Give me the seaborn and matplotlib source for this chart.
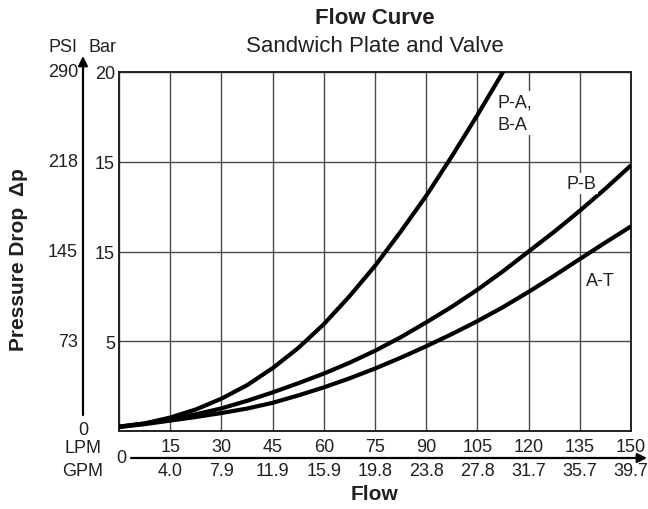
import matplotlib
matplotlib.use("Agg")
import matplotlib.pyplot as plt
import matplotlib.transforms as mtransforms
import numpy as np
import pandas as pd
import seaborn as sns

# ---- data -------------------------------------------------------------
flow_pa = [0, 7.5, 15, 22.5, 30, 37.5, 45, 52.5, 60, 67.5, 75, 82.5, 90, 97.5, 105, 112.5]
dp_pa = [0.24, 0.42, 0.75, 1.20, 1.80, 2.55, 3.50, 4.62, 5.95, 7.50, 9.20, 11.1, 13.1, 15.3, 17.6, 20.0]

flow_full = [0, 7.5, 15, 22.5, 30, 37.5, 45, 52.5, 60, 67.5, 75, 82.5, 90, 97.5, 105,
             112.5, 120, 127.5, 135, 142.5, 150]
dp_pb = [0.24, 0.42, 0.66, 0.93, 1.26, 1.68, 2.15, 2.66, 3.20, 3.80, 4.47, 5.22, 6.05, 6.92,
         7.87, 8.90, 10.0, 11.1, 12.27, 13.5, 14.8]
dp_at = [0.22, 0.38, 0.58, 0.78, 1.00, 1.25, 1.57, 1.98, 2.43, 2.93, 3.48, 4.08, 4.72, 5.40,
         6.12, 6.90, 7.75, 8.65, 9.58, 10.5, 11.4]

lpm_ticks = [0, 15, 30, 45, 60, 75, 90, 105, 120, 135, 150]
lpm_labels = ["", "15", "30", "45", "60", "75", "90", "105", "120", "135", "150"]
gpm_labels = ["", "4.0", "7.9", "11.9", "15.9", "19.8", "23.8", "27.8", "31.7", "35.7", "39.7"]

bar_ticks = [0, 5, 10, 15, 20]
bar_labels = ["", "5", "15", "15", "20"]
psi_labels = ["0", "73", "145", "218", "290"]

df = pd.concat([
    pd.DataFrame({"flow": flow_pa, "dp": dp_pa, "route": "P-A, B-A"}),
    pd.DataFrame({"flow": flow_full, "dp": dp_pb, "route": "P-B"}),
    pd.DataFrame({"flow": flow_full, "dp": dp_at, "route": "A-T"}),
])

# ---- style ------------------------------------------------------------
sns.set_style("white")
plt.rcParams["font.family"] = ["Liberation Sans", "DejaVu Sans"]
TXT = "#231f20"

W, H = 648, 510
fig = plt.figure(figsize=(W / 100, H / 100), dpi=100)
ax = fig.add_axes([119 / W, 1 - 432 / H, (631 - 119) / W, (432 - 73) / H])

sns.lineplot(data=df, x="flow", y="dp", hue="route", units="route", estimator=None,
             sort=False, palette={"P-A, B-A": "black", "P-B": "black", "A-T": "black"},
             linewidth=3.0, legend=False, ax=ax, zorder=3)
for ln in ax.get_lines():
    ln.set_solid_joinstyle("round")
    ln.set_solid_capstyle("butt")

ax.set_xlim(0, 150)
ax.set_ylim(0, 20)
ax.set_xticks(lpm_ticks)
ax.set_xticklabels(lpm_labels)
ax.set_yticks(bar_ticks)
ax.set_yticklabels(bar_labels)
ax.tick_params(axis="both", length=0, labelsize=13, colors=TXT)
ax.tick_params(axis="x", pad=5)
ax.tick_params(axis="y", pad=3)
ax.grid(True, color="#4a4a4a", linewidth=1.0)
ax.set_xlabel("")
ax.set_ylabel("")
for s in ax.spines.values():
    s.set_visible(True)
    s.set_color("#222222")
    s.set_linewidth(1.4)


def fx(px):
    return px / W


def fy(py):
    return 1 - py / H


# PSI scale on the left
psi_tr = mtransforms.blended_transform_factory(fig.transFigure, ax.transData)
for v, lab in zip(bar_ticks[1:], psi_labels[1:]):
    fig.text(fx(78), v, lab, transform=psi_tr, ha="right", va="center",
             fontsize=13, color=TXT)
fig.text(fx(83), fy(431), psi_labels[0], ha="center", va="center", fontsize=13, color=TXT)
fig.text(fx(78), fy(48), "PSI", ha="right", va="center", fontsize=13, color=TXT)
fig.text(fx(117), fy(48), "Bar", ha="right", va="center", fontsize=13, color=TXT)
ax.annotate("", xy=(fx(83), fy(57)), xytext=(fx(83), fy(416)),
            xycoords="figure fraction", textcoords="figure fraction",
            arrowprops=dict(arrowstyle="-|>", color="black", lw=1.6,
                            mutation_scale=14, shrinkA=0, shrinkB=0))

# LPM / GPM scales below
fig.text(fx(83), fy(449), "LPM", ha="center", va="center", fontsize=13, color=TXT)
fig.text(fx(83), fy(471), "GPM", ha="center", va="center", fontsize=13, color=TXT)
fig.text(fx(121), fy(459), "0", ha="center", va="center", fontsize=13, color=TXT)
ax.annotate("", xy=(fx(647), fy(459)), xytext=(fx(131), fy(459)),
            xycoords="figure fraction", textcoords="figure fraction",
            arrowprops=dict(arrowstyle="-|>", color="black", lw=1.6,
                            mutation_scale=14, shrinkA=0, shrinkB=0))
gpm_tr = mtransforms.blended_transform_factory(ax.transData, fig.transFigure)
for v, lab in zip(lpm_ticks, gpm_labels):
    if lab:
        fig.text(v, fy(472), lab, transform=gpm_tr, ha="center", va="center",
                 fontsize=13, color=TXT)

# axis titles
fig.text(fx(375), fy(495), "Flow", ha="center", va="center", fontsize=15,
         fontweight="bold", color=TXT)
fig.text(fx(19), fy(260), "Pressure Drop  \u0394p", ha="center", va="center",
         rotation=90, fontsize=15, fontweight="bold", color=TXT)

# headings
fig.text(fx(375), fy(19), "Flow Curve", ha="center", va="center", fontsize=16,
         fontweight="bold", color=TXT)
fig.text(fx(375), fy(47), "Sandwich Plate and Valve", ha="center", va="center",
         fontsize=16, color=TXT)

# curve labels
box = dict(facecolor="white", edgecolor="none", pad=1.5)
ax.text(111, 17.7, "P-A,\nB-A", ha="left", va="center", fontsize=13, color=TXT,
        linespacing=1.45, bbox=box, zorder=4)
ax.text(135.4, 13.8, "P-B", ha="center", va="center", fontsize=13, color=TXT,
        bbox=box, zorder=4)
ax.text(140.9, 8.36, "A-T", ha="center", va="center", fontsize=13, color=TXT,
        bbox=box, zorder=4)

fig.savefig("out.png", dpi=100)
